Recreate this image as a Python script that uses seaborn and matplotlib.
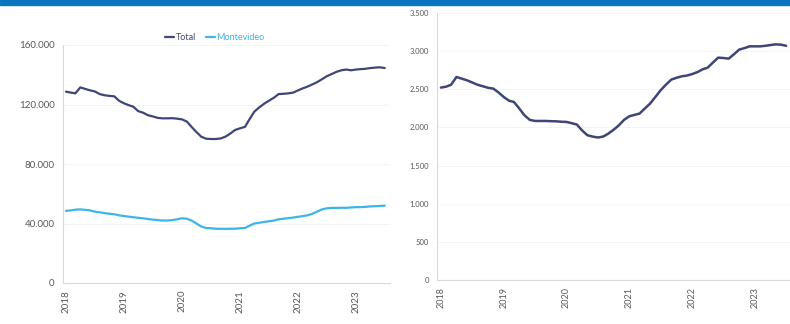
import numpy as np
import pandas as pd
import matplotlib
matplotlib.use("Agg")
import matplotlib.pyplot as plt
from matplotlib.patches import Rectangle
from matplotlib.ticker import FuncFormatter
import seaborn as sns

# Monthly series, January 2018 to July 2023
months = pd.date_range("2018-01-01", "2023-07-01", freq="MS")

total = [
    128.6, 128.0, 127.5, 131.5, 130.5, 129.5, 128.8, 127.0, 126.2, 125.8, 125.5, 122.5,
    120.8, 119.5, 118.5, 115.5, 114.5, 112.8, 112.0, 111.0, 110.7, 110.7, 110.8, 110.5,
    110.0, 108.5, 105.0, 101.5, 98.4, 97.0, 96.8, 96.8, 97.2, 98.4, 100.5, 102.9,
    104.0, 105.0, 110.0, 115.2, 118.0, 120.5, 122.5, 124.5, 127.0, 127.2, 127.5, 128.0,
    129.5, 130.9, 132.0, 133.5, 135.0, 137.0, 139.0, 140.5, 142.0, 143.0, 143.5, 143.0,
    143.5, 143.8, 144.0, 144.5, 144.8, 145.0, 144.5,
]
montevideo = [
    48.5, 48.8, 49.3, 49.5, 49.2, 48.8, 48.0, 47.5, 47.0, 46.5, 46.2, 45.5,
    45.0, 44.6, 44.2, 43.8, 43.5, 43.0, 42.6, 42.3, 42.0, 42.0, 42.3, 42.8,
    43.5, 43.2, 42.0, 40.0, 38.0, 37.0, 36.8, 36.5, 36.4, 36.4, 36.5, 36.5,
    36.8, 37.0, 38.5, 40.0, 40.5, 41.0, 41.5, 42.0, 42.8, 43.2, 43.6, 44.0,
    44.5, 45.0, 45.5, 46.5, 48.0, 49.5, 50.2, 50.5, 50.5, 50.6, 50.5, 50.8,
    51.0, 51.0, 51.2, 51.5, 51.6, 51.8, 52.0,
]
right_series = [
    2522, 2535, 2560, 2661, 2640, 2618, 2590, 2560, 2540, 2520, 2509, 2460,
    2399, 2350, 2334, 2250, 2160, 2100, 2085, 2085, 2085, 2082, 2080, 2075,
    2072, 2055, 2038, 1960, 1898, 1880, 1868, 1880, 1920, 1970, 2029, 2100,
    2147, 2165, 2182, 2250, 2313, 2400, 2487, 2560, 2627, 2650, 2670, 2680,
    2700, 2726, 2760, 2784, 2850, 2915, 2910, 2902, 2960, 3020, 3040, 3063,
    3063, 3063, 3070, 3080, 3089, 3085, 3070,
]

series_names = ["Total", "Montevideo"]
left_ticks = [0, 40000, 80000, 120000, 160000]
right_ticks = [0, 500, 1000, 1500, 2000, 2500, 3000, 3500]
year_ticks = [2018, 2019, 2020, 2021, 2022, 2023]

NAVY = "#3f4677"
LIGHT = "#3db5e6"
TEXT = "#595959"
AXIS = "#d9d9d9"

left_df = pd.DataFrame({
    "fecha": np.concatenate([months, months]),
    "valor": np.array(total + montevideo) * 1000,
    "serie": [series_names[0]] * len(months) + [series_names[1]] * len(months),
})
right_df = pd.DataFrame({"fecha": months, "valor": right_series})

sns.set_theme(style="white")
plt.rcParams["font.family"] = ["Lato", "DejaVu Sans"]

fig = plt.figure(figsize=(7.9, 3.24), dpi=100)
ax1 = fig.add_axes([63 / 790, 41 / 324, 327 / 790, 238 / 324])
ax2 = fig.add_axes([437 / 790, 44 / 324, 353 / 790, 267 / 324])

sns.lineplot(data=left_df, x="fecha", y="valor", hue="serie",
             palette={"Total": NAVY, "Montevideo": LIGHT},
             linewidth=1.6, ax=ax1)
sns.lineplot(data=right_df, x="fecha", y="valor", color=NAVY,
             linewidth=1.8, ax=ax2)


def thousands(v, _):
    return f"{int(v):,}".replace(",", ".")


for ax, ticks, xl, xr, fs, xfs in [
    (ax1, left_ticks, -19, 2023.586, 7.0, 7.0),
    (ax2, right_ticks, -23, 2023.557, 5.5, 6.5),
]:
    ax.set_ylim(ticks[0], ticks[-1])
    ax.set_yticks(ticks)
    ax.yaxis.set_major_formatter(FuncFormatter(thousands))
    end = pd.Timestamp("2023-01-01") + pd.Timedelta(days=(xr - 2023) * 365.25)
    ax.set_xlim(pd.Timestamp("2018-01-01") + pd.Timedelta(days=xl), end)
    ax.set_xticks([pd.Timestamp(f"{y}-01-01") for y in year_ticks])
    ax.set_xticklabels([str(y) for y in year_ticks], rotation=90)
    ax.tick_params(axis="y", length=0, colors=TEXT, labelsize=fs, pad=6)
    ax.tick_params(axis="x", length=0, colors=TEXT, labelsize=xfs, pad=5)
    ax.set_xlabel("")
    ax.set_ylabel("")
    ax.grid(axis="y", color="#f2f2f2", linewidth=0.6)
    for side in ["top", "right"]:
        ax.spines[side].set_visible(False)
    for side in ["left", "bottom"]:
        ax.spines[side].set_color(AXIS)
        ax.spines[side].set_linewidth(0.8)

if ax2.get_legend() is not None:
    ax2.get_legend().remove()

leg = ax1.legend(loc="center", bbox_to_anchor=(0.465, 1.03), ncol=2,
                 frameon=False, fontsize=6.5, handlelength=1.0,
                 handletextpad=0.2, columnspacing=1.0)
for txt, col in zip(leg.get_texts(), [NAVY, LIGHT]):
    txt.set_color(col)

# Header band across the top edge
fig.patches.append(Rectangle((0, 1 - 5 / 324), 1, 5 / 324,
                             transform=fig.transFigure, color="#0a76bf",
                             zorder=10))

fig.savefig("out.png", dpi=100, facecolor="white")
